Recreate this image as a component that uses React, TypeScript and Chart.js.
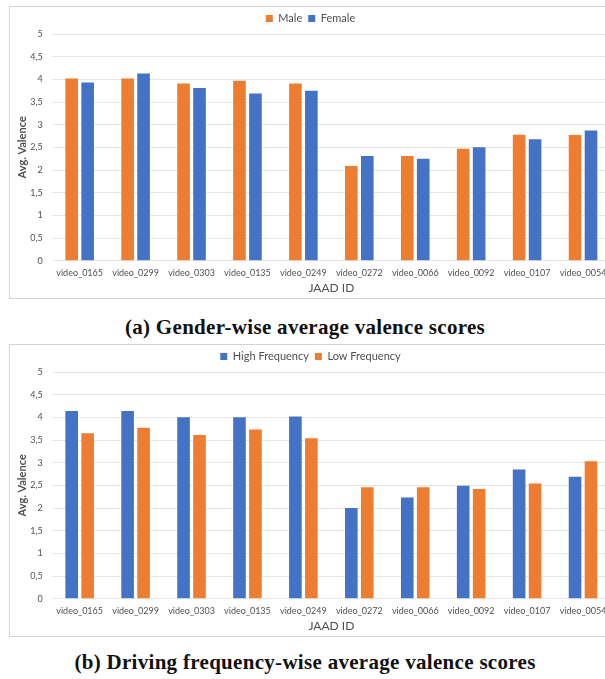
import React, { useEffect, useRef } from "react";
import { Chart, registerables } from "chart.js";

Chart.register(...registerables);

const CATEGORIES = [
  "video_0165", "video_0299", "video_0303", "video_0135", "video_0249",
  "video_0272", "video_0066", "video_0092", "video_0107", "video_0054",
];

const MALE = [4.02, 4.02, 3.91, 3.97, 3.91, 2.09, 2.31, 2.47, 2.78, 2.77];
const FEMALE = [3.93, 4.13, 3.81, 3.69, 3.75, 2.31, 2.25, 2.50, 2.68, 2.87];

const HIGH_FREQ = [4.14, 4.14, 4.00, 4.00, 4.02, 2.00, 2.23, 2.49, 2.85, 2.69];
const LOW_FREQ = [3.65, 3.77, 3.61, 3.73, 3.54, 2.46, 2.46, 2.42, 2.54, 3.03];

const Y_TICK_LABELS = ["0", "0,5", "1", "1,5", "2", "2,5", "3", "3,5", "4", "4,5", "5"];

const ORANGE = "#ED7D31";
const BLUE = "#4472C4";
const TEXT = "#505050";

type Series = { label: string; data: number[]; color: string };

function BarChart({ series }: { series: Series[] }) {
  const ref = useRef<HTMLCanvasElement | null>(null);
  useEffect(() => {
    if (!ref.current) return;
    const chart = new Chart(ref.current, {
      type: "bar",
      data: {
        labels: CATEGORIES,
        datasets: series.map((s) => ({
          label: s.label,
          data: s.data,
          backgroundColor: s.color,
          borderWidth: 0,
          categoryPercentage: 0.571,
          barPercentage: 0.79,
        })),
      },
      options: {
        responsive: false,
        maintainAspectRatio: false,
        animation: false,
        layout: { padding: { left: 0, right: 10, top: 0, bottom: 0 } },
        plugins: {
          tooltip: { enabled: false },
          legend: {
            position: "top",
            labels: {
              boxWidth: 7,
              boxHeight: 7,
              padding: 6,
              color: TEXT,
              font: { family: "Lato", size: 11 },
            },
          },
        },
        scales: {
          x: {
            grid: { display: false, drawTicks: false },
            border: { display: false },
            ticks: {
              color: TEXT,
              font: { family: "Lato", size: 9 },
              padding: 7,
              maxRotation: 0,
              autoSkip: false,
            },
            title: {
              display: true,
              text: "JAAD ID",
              color: TEXT,
              font: { family: "Lato", size: 12 },
              padding: { top: 3, bottom: 3 },
            },
            afterFit: (scale: any) => {
              scale.height = 37.3;
            },
          },
          y: {
            min: 0,
            max: 5,
            ticks: {
              stepSize: 0.5,
              color: TEXT,
              font: { family: "Lato", size: 9 },
              padding: 9,
              callback: (_v: any, i: number) => Y_TICK_LABELS[i],
            },
            grid: { color: "#e6e6e6", drawTicks: false },
            border: { display: false },
            title: {
              display: true,
              text: "Avg. Valence",
              color: TEXT,
              font: { family: "Lato", size: 11, weight: "bold" },
              padding: { top: 5.4, bottom: 0 },
            },
            afterFit: (scale: any) => {
              scale.width = 41.7;
            },
          },
        },
      },
    } as any);
    return () => chart.destroy();
  }, [series]);
  return (
    <canvas
      ref={ref}
      width={611}
      height={291}
      style={{ display: "block", width: 611, height: 291 }}
    />
  );
}

const SERIES_A: Series[] = [
  { label: "Male", data: MALE, color: ORANGE },
  { label: "Female", data: FEMALE, color: BLUE },
];
const SERIES_B: Series[] = [
  { label: "High Frequency", data: HIGH_FREQ, color: BLUE },
  { label: "Low Frequency", data: LOW_FREQ, color: ORANGE },
];

const boxStyle = (top: number): React.CSSProperties => ({
  position: "absolute",
  left: 9,
  top,
  width: 613,
  height: 293,
  border: "1px solid #d4d4d4",
  boxSizing: "border-box",
  background: "#fff",
});

const captionStyle = (top: number): React.CSSProperties => ({
  position: "absolute",
  left: 0,
  width: 610,
  top,
  textAlign: "center",
  fontFamily: "'Liberation Serif', serif",
  fontWeight: "bold",
  fontSize: 21,
  letterSpacing: 0.3,
  lineHeight: "24px",
  color: "#111",
  whiteSpace: "nowrap",
});

export default function App() {
  return (
    <div
      style={{
        position: "absolute",
        left: 0,
        top: 0,
        width: 605,
        height: 679,
        overflow: "hidden",
        background: "#fff",
      }}
    >
      <div style={boxStyle(6)}>
        <BarChart series={SERIES_A} />
      </div>
      <div style={captionStyle(315)}>(a) Gender-wise average valence scores</div>
      <div style={boxStyle(344)}>
        <BarChart series={SERIES_B} />
      </div>
      <div style={captionStyle(650)}>(b) Driving frequency-wise average valence scores</div>
    </div>
  );
}
